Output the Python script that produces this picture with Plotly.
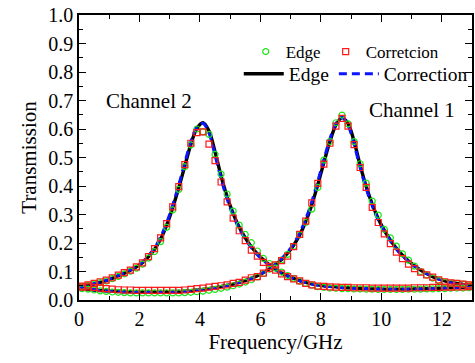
import plotly.graph_objects as go

freq = [0.1, 0.3, 0.5, 0.7, 0.9, 1.1, 1.3, 1.5, 1.7, 1.9,
        2.1, 2.3, 2.5, 2.7, 2.9, 3.1, 3.3, 3.5, 3.7, 3.9,
        4.1, 4.3, 4.5, 4.7, 4.9, 5.1, 5.3, 5.5, 5.7, 5.9,
        6.1, 6.3, 6.5, 6.7, 6.9, 7.1, 7.3, 7.5, 7.7, 7.9,
        8.1, 8.3, 8.5, 8.7, 8.9, 9.1, 9.3, 9.5, 9.7, 9.9,
        10.1, 10.3, 10.5, 10.7, 10.9, 11.1, 11.3, 11.5, 11.7, 11.9,
        12.1, 12.3, 12.5, 12.7, 12.9]

freq_line = [0.0] + freq + [13.0]

# line series (67 values: 0.0, 0.1 ... 12.9, 13.0)
edge_line_ch2 = [0.046,
                 0.048, 0.052, 0.056, 0.062, 0.068, 0.076, 0.085, 0.094, 0.104, 0.116,
                 0.131, 0.152, 0.178, 0.214, 0.263, 0.324, 0.394, 0.470, 0.546, 0.602,
                 0.622, 0.593, 0.520, 0.435, 0.362, 0.303, 0.255, 0.218, 0.187, 0.162,
                 0.141, 0.123, 0.108, 0.095, 0.085, 0.076, 0.068, 0.062, 0.057, 0.053,
                 0.050, 0.048, 0.046, 0.044, 0.043, 0.042, 0.041, 0.040, 0.039, 0.039,
                 0.038, 0.038, 0.038, 0.038, 0.038, 0.039, 0.039, 0.040, 0.040, 0.041,
                 0.042, 0.043, 0.044, 0.045, 0.046,
                 0.046]
corr_line_ch2 = [0.047,
                 0.049, 0.053, 0.057, 0.063, 0.069, 0.077, 0.086, 0.095, 0.106, 0.118,
                 0.134, 0.156, 0.183, 0.221, 0.271, 0.333, 0.404, 0.481, 0.556, 0.607,
                 0.620, 0.585, 0.508, 0.425, 0.354, 0.297, 0.250, 0.214, 0.184, 0.159,
                 0.139, 0.121, 0.106, 0.094, 0.084, 0.075, 0.067, 0.061, 0.056, 0.052,
                 0.049, 0.047, 0.045, 0.044, 0.042, 0.041, 0.040, 0.040, 0.039, 0.039,
                 0.038, 0.038, 0.038, 0.038, 0.038, 0.039, 0.039, 0.040, 0.040, 0.041,
                 0.042, 0.043, 0.044, 0.045, 0.046,
                 0.046]
edge_line_ch1 = [0.040,
                 0.039, 0.037, 0.035, 0.033, 0.032, 0.031, 0.030, 0.029, 0.029, 0.028,
                 0.028, 0.028, 0.028, 0.028, 0.029, 0.029, 0.030, 0.031, 0.033, 0.035,
                 0.037, 0.040, 0.043, 0.047, 0.051, 0.056, 0.062, 0.068, 0.076, 0.085,
                 0.096, 0.109, 0.124, 0.142, 0.164, 0.192, 0.228, 0.275, 0.334, 0.405,
                 0.482, 0.556, 0.614, 0.640, 0.619, 0.556, 0.473, 0.398, 0.336, 0.285,
                 0.244, 0.210, 0.181, 0.157, 0.137, 0.120, 0.105, 0.093, 0.082, 0.074,
                 0.067, 0.062, 0.058, 0.055, 0.052,
                 0.051]
corr_line_ch1 = [0.041,
                 0.040, 0.038, 0.036, 0.034, 0.032, 0.031, 0.030, 0.029, 0.029, 0.028,
                 0.028, 0.028, 0.028, 0.028, 0.029, 0.029, 0.030, 0.031, 0.033, 0.035,
                 0.037, 0.040, 0.043, 0.047, 0.051, 0.056, 0.062, 0.068, 0.076, 0.085,
                 0.097, 0.110, 0.126, 0.145, 0.168, 0.197, 0.235, 0.284, 0.345, 0.417,
                 0.493, 0.565, 0.620, 0.640, 0.612, 0.546, 0.464, 0.391, 0.330, 0.280,
                 0.240, 0.207, 0.179, 0.155, 0.135, 0.118, 0.104, 0.092, 0.082, 0.073,
                 0.066, 0.061, 0.057, 0.054, 0.052,
                 0.051]

# marker series (65 values on freq)
edge_pts_ch2 = [0.047, 0.051, 0.056, 0.061, 0.067, 0.075, 0.083, 0.092, 0.101, 0.112,
                0.126, 0.147, 0.170, 0.205, 0.255, 0.316, 0.388, 0.468, 0.544, 0.600,
                0.590, 0.581, 0.511, 0.442, 0.372, 0.312, 0.263, 0.230, 0.201, 0.172,
                0.146, 0.128, 0.112, 0.098, 0.086, 0.076, 0.066, 0.058, 0.052, 0.047,
                0.044, 0.042, 0.041, 0.040, 0.040, 0.039, 0.039, 0.038, 0.038, 0.037,
                0.037, 0.037, 0.037, 0.037, 0.038, 0.038, 0.038, 0.039, 0.039, 0.040,
                0.040, 0.041, 0.042, 0.042, 0.043]
corr_pts_ch2 = [0.049, 0.053, 0.058, 0.064, 0.070, 0.078, 0.087, 0.096, 0.105, 0.116,
                0.130, 0.152, 0.180, 0.218, 0.268, 0.327, 0.398, 0.475, 0.550, 0.587,
                0.590, 0.547, 0.489, 0.414, 0.344, 0.287, 0.243, 0.208, 0.175, 0.154,
                0.132, 0.118, 0.105, 0.092, 0.082, 0.074, 0.067, 0.058, 0.053, 0.049,
                0.048, 0.046, 0.045, 0.044, 0.044, 0.043, 0.043, 0.043, 0.042, 0.042,
                0.042, 0.042, 0.042, 0.042, 0.042, 0.043, 0.043, 0.043, 0.044, 0.044,
                0.045, 0.045, 0.046, 0.046, 0.047]
edge_pts_ch1 = [0.040, 0.038, 0.035, 0.032, 0.030, 0.028, 0.027, 0.026, 0.025, 0.025,
                0.025, 0.025, 0.025, 0.025, 0.025, 0.025, 0.025, 0.026, 0.027, 0.029,
                0.031, 0.034, 0.037, 0.041, 0.045, 0.050, 0.056, 0.063, 0.071, 0.081,
                0.093, 0.108, 0.123, 0.140, 0.160, 0.188, 0.228, 0.272, 0.319, 0.395,
                0.491, 0.556, 0.622, 0.649, 0.618, 0.556, 0.478, 0.410, 0.347, 0.298,
                0.248, 0.218, 0.189, 0.162, 0.140, 0.119, 0.100, 0.088, 0.077, 0.068,
                0.062, 0.059, 0.058, 0.056, 0.053]
corr_pts_ch1 = [0.045, 0.046, 0.044, 0.042, 0.040, 0.038, 0.036, 0.035, 0.035, 0.034,
                0.034, 0.034, 0.034, 0.034, 0.034, 0.034, 0.034, 0.035, 0.037, 0.040,
                0.042, 0.045, 0.048, 0.050, 0.053, 0.058, 0.062, 0.070, 0.078, 0.082,
                0.094, 0.111, 0.123, 0.138, 0.154, 0.187, 0.230, 0.277, 0.341, 0.409,
                0.477, 0.550, 0.610, 0.637, 0.610, 0.545, 0.465, 0.395, 0.325, 0.272,
                0.232, 0.198, 0.168, 0.145, 0.126, 0.110, 0.098, 0.088, 0.080, 0.071,
                0.064, 0.060, 0.058, 0.056, 0.053]

x_ticks = [0, 2, 4, 6, 8, 10, 12]
y_ticks = [0.0, 0.1, 0.2, 0.3, 0.4, 0.5, 0.6, 0.7, 0.8, 0.9, 1.0]

FONT = "Liberation Serif, Times New Roman, Times, DejaVu Serif, serif"

fig = go.Figure()


def joined(a, b):
    return a + [None] + b


fig.add_trace(go.Scatter(x=joined(freq_line, freq_line), y=joined(edge_line_ch2, edge_line_ch1),
                         mode="lines", name="Edge", line=dict(color="black", width=3.4, shape="spline"),
                         legend="legend2", connectgaps=False))
fig.add_trace(go.Scatter(x=joined(freq_line, freq_line), y=joined(corr_line_ch2, corr_line_ch1),
                         mode="lines", name="Correction",
                         line=dict(color="#0a14ff", width=3, dash="8px,5px", shape="spline"),
                         legend="legend2", connectgaps=False))
fig.add_trace(go.Scatter(x=joined(freq, freq), y=joined(edge_pts_ch2, edge_pts_ch1),
                         mode="markers", name="Edge",
                         marker=dict(symbol="circle-open", size=6, color="#19e619", line=dict(width=1.2)),
                         legend="legend"))
fig.add_trace(go.Scatter(x=joined(freq, freq), y=joined(corr_pts_ch2, corr_pts_ch1),
                         mode="markers", name="Corretcion",
                         marker=dict(symbol="square-open", size=6, color="#ff1a1a", line=dict(width=1.2)),
                         legend="legend"))

fig.add_annotation(x=2.3, y=0.70, xref="x", yref="y", text="Channel 2", showarrow=False,
                   font=dict(family=FONT, size=21, color="black"))
fig.add_annotation(x=11.0, y=0.667, xref="x", yref="y", text="Channel 1", showarrow=False,
                   font=dict(family=FONT, size=21, color="black"))

axis_common = dict(showgrid=False, zeroline=False, showline=True, linecolor="black", linewidth=1.5,
                   mirror="allticks", ticks="inside", ticklen=7, tickwidth=1.3, tickcolor="black",
                   tickfont=dict(family=FONT, size=20, color="black"))

fig.update_xaxes(range=[0, 13], tickvals=x_ticks, ticktext=[str(v) for v in x_ticks],
                 minor=dict(ticks="inside", ticklen=4, dtick=1, tick0=0, tickcolor="black", tickwidth=1.3),
                 title=dict(text="Frequency/GHz", font=dict(family=FONT, size=21, color="black"), standoff=4),
                 **axis_common)
fig.update_yaxes(range=[0, 1.0], tickvals=y_ticks, ticktext=["%.1f" % v for v in y_ticks],
                 minor=dict(ticks="inside", ticklen=4, dtick=0.05, tick0=0, tickcolor="black", tickwidth=1.3),
                 title=dict(text="Transmission", font=dict(family=FONT, size=21, color="black"), standoff=6),
                 **axis_common)

legend_common = dict(orientation="h", xanchor="left", yanchor="middle",
                     bgcolor="rgba(0,0,0,0)", traceorder="normal", borderwidth=0)

fig.update_layout(
    width=475, height=363,
    margin=dict(l=79, r=1, t=15, b=63),
    paper_bgcolor="white", plot_bgcolor="white",
    font=dict(family=FONT, color="black"),
    legend=dict(x=(247 - 79) / 396, y=(300 - 52) / 285, itemwidth=30,
                font=dict(family=FONT, size=17, color="black"), **legend_common),
    legend2=dict(x=(240 - 79) / 396, y=(300 - 74) / 285, itemwidth=40,
                 font=dict(family=FONT, size=19.5, color="black"), **legend_common),
    showlegend=True,
)

fig.write_html("out.html")
